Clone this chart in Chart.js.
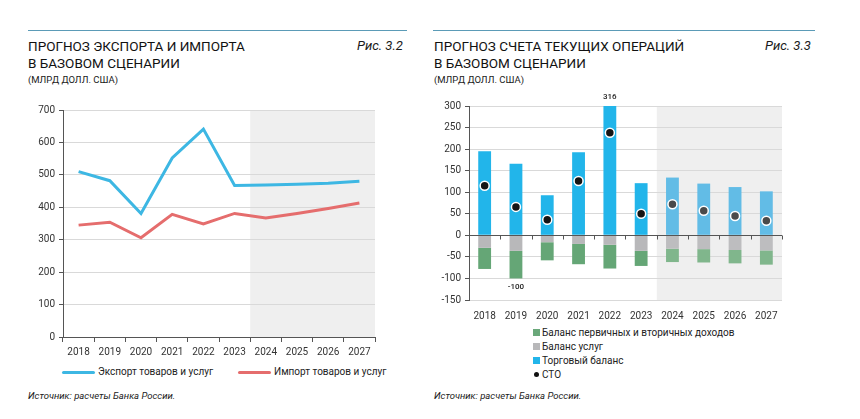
<!DOCTYPE html>
<html>
<head>
<meta charset="utf-8">
<script src="https://cdn.jsdelivr.net/npm/chart.js@4"></script>
<style>
  body { margin: 0; width: 860px; height: 419px; background: #fff; font-family: Roboto, "Open Sans", sans-serif; color: #222; position: relative; overflow: hidden; }
  .rule { position: absolute; top: 30px; height: 1px; background: #5b9bb7; }
  .title { position: absolute; font-size: 13.5px; line-height: 17px; font-weight: 400; color: #111; }
  .sub { position: absolute; font-size: 9.5px; color: #1a1a1a; }
  .fig { position: absolute; top: 38px; font-size: 13px; font-style: italic; color: #1a1a1a; }
  .src { position: absolute; top: 390px; font-size: 9.5px; font-style: italic; color: #1a1a1a; }
  .box { position: absolute; }
  .lg { position: absolute; font-size: 10px; color: #222; white-space: nowrap; }
  .lg .ln { display: inline-block; width: 33px; height: 3px; border-radius: 2px; vertical-align: middle; margin-right: 3px; }
  .lg .sq { display: inline-block; width: 7px; height: 7px; vertical-align: middle; margin-right: 2px; position: relative; top: -1px; }
  .lg .dot { display: inline-block; width: 5px; height: 5px; border-radius: 50%; background: #111; vertical-align: middle; margin: 0 3px 0 1px; position: relative; top: -1px; }
</style>
</head>
<body>
<div class="rule" style="left:28px;width:379px"></div>
<div class="rule" style="left:433px;width:382px"></div>

<div class="title" style="left:28px;top:38px">ПРОГНОЗ ЭКСПОРТА И ИМПОРТА<br>В БАЗОВОМ СЦЕНАРИИ</div>
<div class="sub" style="left:28px;top:74px">(МЛРД ДОЛЛ. США)</div>
<div class="fig" style="left:357px">Рис. 3.2</div>

<div class="title" style="left:434px;top:38px">ПРОГНОЗ СЧЕТА ТЕКУЩИХ ОПЕРАЦИЙ<br>В БАЗОВОМ СЦЕНАРИИ</div>
<div class="sub" style="left:434px;top:74px">(МЛРД ДОЛЛ. США)</div>
<div class="fig" style="left:765px">Рис. 3.3</div>

<div class="box" style="left:0;top:100px;width:390px;height:262px"><canvas id="left"></canvas></div>
<div class="box" style="left:420px;top:86px;width:380px;height:236px"><canvas id="right"></canvas></div>

<div class="lg" style="left:62px;top:366px"><span class="ln" style="background:#3db7e3"></span>Экспорт товаров и услуг</div>
<div class="lg" style="left:238px;top:366px"><span class="ln" style="background:#e56d6d"></span>Импорт товаров и услуг</div>

<div class="lg" style="left:533px;top:327px"><span class="sq" style="background:#6aa87a"></span>Баланс первичных и вторичных доходов</div>
<div class="lg" style="left:533px;top:341px"><span class="sq" style="background:#b8b8ba"></span>Баланс услуг</div>
<div class="lg" style="left:533px;top:355px"><span class="sq" style="background:#22b5ea"></span>Торговый баланс</div>
<div class="lg" style="left:533px;top:369px"><span class="dot"></span>СТО</div>

<div class="src" style="left:28px">Источник: расчеты Банка России.</div>
<div class="src" style="left:434px">Источник: расчеты Банка России.</div>

<script>
const years = ['2018', '2019', '2020', '2021', '2022', '2023', '2024', '2025', '2026', '2027'];
const firstForecast = 6; // 2024 onwards is forecast (shaded)

// Fig 3.2
const exportVals = [510, 482, 381, 552, 641, 467, 469, 471, 474, 480];
const importVals = [345, 354, 306, 378, 349, 381, 367, 381, 396, 413];

// Fig 3.3
const tradeBal = [195, 166, 93, 193, 316, 121, 134, 120, 112, 102];
const servicesBal = [-29, -36, -16, -20, -22, -36, -31, -32, -34, -35];
const incomeBal = [-49, -64, -42, -47, -55, -35, -31, -31, -31, -33];
const currentAcc = [115, 66, 36, 126, 238, 50, 72, 57, 45, 34];

const tickFont = { family: 'Roboto, sans-serif', size: 10 };
const axisColor = '#555';
const gridColor = '#d9d9d9';
const shadeColor = '#efefef';

const pick = (actual, forecast) => years.map((_, i) => i < firstForecast ? actual : forecast);

// grey background behind the forecast years
const forecastShade = {
  id: 'forecastShade',
  beforeDraw(chart) {
    const { ctx, chartArea, scales: { x } } = chart;
    const half = (x.getPixelForValue(1) - x.getPixelForValue(0)) / 2;
    const x0 = x.getPixelForValue(firstForecast) - half;
    ctx.save();
    ctx.fillStyle = shadeColor;
    ctx.fillRect(x0, chartArea.top, chartArea.right - x0, chartArea.bottom - chartArea.top);
    ctx.restore();
  }
};

new Chart(document.getElementById('left'), {
  type: 'line',
  data: {
    labels: years,
    datasets: [
      { label: 'Экспорт товаров и услуг', data: exportVals, borderColor: '#3db7e3', borderWidth: 3, pointRadius: 0, tension: 0 },
      { label: 'Импорт товаров и услуг', data: importVals, borderColor: '#e56d6d', borderWidth: 3, pointRadius: 0, tension: 0 }
    ]
  },
  plugins: [forecastShade],
  options: {
    responsive: true,
    maintainAspectRatio: false,
    animation: false,
    layout: { padding: { top: 7, right: 15, left: 0, bottom: 0 } },
    plugins: { legend: { display: false }, tooltip: { enabled: false } },
    scales: {
      x: {
        offset: true,
        grid: { offset: true, drawOnChartArea: false, tickLength: 5, tickColor: axisColor },
        border: { color: axisColor },
        ticks: { font: tickFont, color: '#333', padding: 4, maxRotation: 0 },
        afterFit: (s) => { s.height = 25; }
      },
      y: {
        min: 0, max: 700,
        grid: { color: gridColor, tickLength: 4, tickColor: axisColor },
        border: { color: axisColor },
        ticks: { stepSize: 100, font: tickFont, color: '#333', padding: 4 },
        afterFit: (s) => { s.width = 63; }
      }
    }
  }
});

// zero line, its small boundary ticks and the two value labels
const zeroAndLabels = {
  id: 'zeroAndLabels',
  afterDatasetsDraw(chart) {
    const { ctx, chartArea, scales: { x, y } } = chart;
    const y0 = Math.round(y.getPixelForValue(0)) + 0.5;
    const half = (x.getPixelForValue(1) - x.getPixelForValue(0)) / 2;
    ctx.save();
    ctx.strokeStyle = axisColor;
    ctx.lineWidth = 1;
    ctx.beginPath();
    ctx.moveTo(chartArea.left, y0);
    ctx.lineTo(chartArea.right, y0);
    for (let i = 0; i <= years.length; i++) {
      const xp = Math.round(x.getPixelForValue(0) - half + i * 2 * half) + 0.5;
      ctx.moveTo(xp, y0);
      ctx.lineTo(xp, y0 + 4);
    }
    ctx.stroke();

    ctx.fillStyle = '#222';
    ctx.font = '500 8px Roboto, sans-serif';
    ctx.textAlign = 'center';
    ctx.textBaseline = 'middle';
    const iMax = tradeBal.indexOf(Math.max(...tradeBal));
    ctx.fillText(String(tradeBal[iMax]), x.getPixelForValue(iMax), chartArea.top - 9);
    const totals = servicesBal.map((v, i) => v + incomeBal[i]);
    const iMin = totals.indexOf(Math.min(...totals));
    ctx.fillText(String(Math.round(totals[iMin])), x.getPixelForValue(iMin), y.getPixelForValue(totals[iMin]) + 9);
    ctx.restore();
  }
};

new Chart(document.getElementById('right'), {
  type: 'bar',
  data: {
    labels: years,
    datasets: [
      {
        type: 'line', label: 'СТО', data: currentAcc, stack: 'cto', showLine: false,
        pointRadius: 4.5, pointHoverRadius: 4.5, pointBorderWidth: 1.5,
        pointBackgroundColor: pick('#151515', '#4a4a4a'), pointBorderColor: '#fff'
      },
      { label: 'Торговый баланс', data: tradeBal, stack: 's', backgroundColor: pick('#22b5ea', '#62bce6') },
      { label: 'Баланс услуг', data: servicesBal, stack: 's', backgroundColor: pick('#b8b8ba', '#bdbdbf') },
      { label: 'Баланс первичных и вторичных доходов', data: incomeBal, stack: 's', backgroundColor: pick('#65a676', '#80b68c') }
    ]
  },
  plugins: [forecastShade, zeroAndLabels],
  options: {
    responsive: true,
    maintainAspectRatio: false,
    animation: false,
    categoryPercentage: 1,
    barPercentage: 0.41,
    layout: { padding: { top: 20, right: 18, left: 0, bottom: 0 } },
    plugins: { legend: { display: false }, tooltip: { enabled: false } },
    scales: {
      x: {
        stacked: true,
        grid: { display: false },
        border: { display: false },
        ticks: { font: tickFont, color: '#333', padding: 2, maxRotation: 0 },
        afterFit: (s) => { s.height = 22; }
      },
      y: {
        stacked: true,
        min: -150, max: 300,
        grid: { color: gridColor, tickLength: 4, tickColor: axisColor },
        border: { color: axisColor },
        ticks: { stepSize: 50, font: tickFont, color: '#333', padding: 4 },
        afterFit: (s) => { s.width = 49; }
      }
    }
  }
});
</script>
</body>
</html>
